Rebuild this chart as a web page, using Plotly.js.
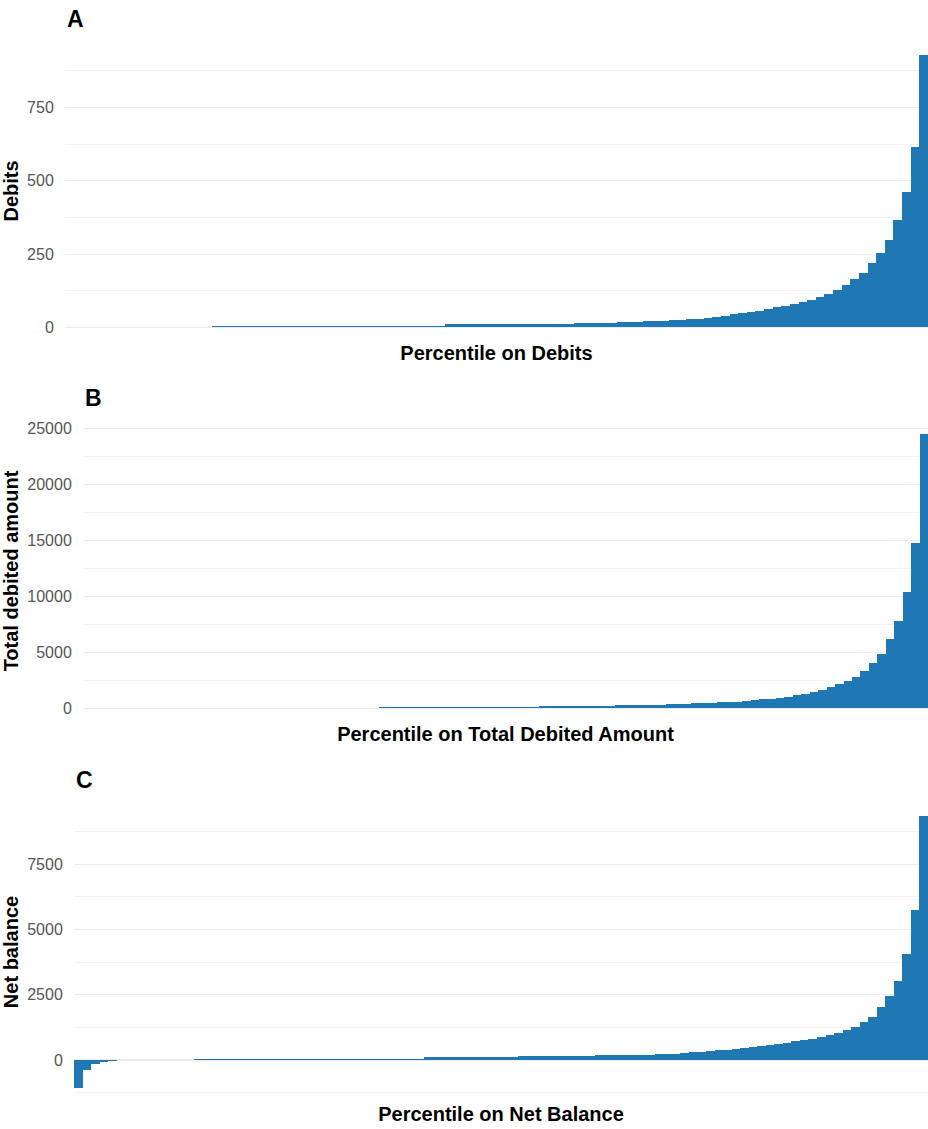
<!DOCTYPE html>
<html>
<head>
<meta charset="utf-8">
<script src="https://cdn.plot.ly/plotly-3.0.1.min.js"></script>
<style>html,body{margin:0;padding:0;background:#fff;}#chart{width:928px;height:1129px;}</style>
</head>
<body>
<div id="chart"></div>
<script>
// Percentile categories (1..100)
const percentiles = [1,2,3,4,5,6,7,8,9,10,11,12,13,14,15,16,17,18,19,20,
  21,22,23,24,25,26,27,28,29,30,31,32,33,34,35,36,37,38,39,40,
  41,42,43,44,45,46,47,48,49,50,51,52,53,54,55,56,57,58,59,60,
  61,62,63,64,65,66,67,68,69,70,71,72,73,74,75,76,77,78,79,80,
  81,82,83,84,85,86,87,88,89,90,91,92,93,94,95,96,97,98,99,100];

// Panel A: Debits by percentile
const debits = [0,0,0,0,0,0,0,0,0,0,0,0,0,0,0,0,0,
  3,3,3,3,3,3,3,3,3,3,3,3,3,3,3,3,3,3,
  6,6,6,6,6,6,6,6,6,
  10,10,10,10,10,10,10,10,10,10,
  13,13,13,13,13,
  16,16,16,16,16,
  20,20,20,
  22,22,22,
  24,24,
  27,30,33,36,40,44,48,51,57,61,68,73,80,88,95,105,114,127,144,164,185,218,255,298,366,460,616,930];

// Panel B: Total debited amount by percentile
const totalDebited = [0,0,0,0,0,0,0,0,0,0,0,0,0,0,0,0,0,0,0,0,0,0,0,0,0,0,0,0,0,0,0,0,0,0,0,
  90,90,90,90,90,90,90,90,90,90,90,90,90,90,90,90,90,90,90,
  190,190,190,190,190,190,190,190,190,
  300,300,300,300,300,300,
  370,390,410,430,460,490,520,560,600,650,710,800,860,950,1040,1160,1280,1430,1640,1870,2140,2440,2830,3360,4020,4820,6160,7800,10360,14820,24550];

// Panel C: Net balance by percentile
const netBalance = [-1085,-383,-165,-70,-30,-10,
  0,0,0,0,0,0,0,0,
  55,55,55,55,55,55,55,55,55,55,55,55,55,55,55,55,55,55,55,55,55,55,55,55,55,55,55,
  110,110,110,110,110,110,110,110,110,110,110,
  160,160,160,160,160,160,160,160,160,
  190,190,190,190,190,
  200,210,220,235,250,270,295,320,346,372,397,423,449,487,525,564,615,667,718,770,820,897,962,1051,1141,1270,1474,1667,2025,2436,3040,4064,5730,9360];

const panelLabels = ['A', 'B', 'C'];
const yTitles = ['Debits', 'Total debited amount', 'Net balance'];
const xTitles = ['Percentile on Debits', 'Percentile on Total Debited Amount', 'Percentile on Net Balance'];
const majorStep = [250, 5000, 2500];

const W = 928, H = 1129;
const FONT = 'Liberation Sans, Arial, sans-serif';
const BAR = '#1f77b4';
// plot-area pixel boxes [left, top, bottom]
const boxes = [[65, 41, 341], [83, 420, 722], [74, 802, 1102]];
const series = [debits, totalDebited, netBalance];

function gg(vals) {
  const lo = Math.min(0, Math.min(...vals));
  const hi = Math.max(0, Math.max(...vals));
  const pad = 0.05 * (hi - lo);
  return [lo - pad, hi + pad];
}

const data = [];
const layout = {
  width: W, height: H,
  margin: {l: 0, r: 0, t: 0, b: 0},
  paper_bgcolor: '#fff', plot_bgcolor: '#fff',
  showlegend: false, bargap: 0,
  font: {family: FONT},
  annotations: []
};

series.forEach((vals, i) => {
  const n = i === 0 ? '' : String(i + 1);
  const [left, top, bottom] = boxes[i];
  data.push({
    type: 'bar', x: percentiles, y: vals,
    xaxis: 'x' + n, yaxis: 'y' + n,
    width: 1, marker: {color: BAR, line: {width: 0}},
    hoverinfo: 'x+y'
  });
  layout['xaxis' + n] = {
    domain: [left / W, 1], anchor: 'y' + n,
    range: [0.5, 100.5], showgrid: false, zeroline: false,
    showticklabels: false, ticks: '', showline: false,
    title: {text: '<b>' + xTitles[i] + '</b>', font: {size: 20, color: '#000', family: FONT}, standoff: 4}
  };
  layout['yaxis' + n] = {
    domain: [1 - bottom / H, 1 - top / H], anchor: 'x' + n,
    range: gg(vals), dtick: majorStep[i], tick0: 0, tickformat: 'd',
    showgrid: true, gridcolor: '#ebebeb', gridwidth: 1.1,
    minor: {dtick: majorStep[i] / 2, tick0: 0, showgrid: true, gridcolor: '#f2f2f2', gridwidth: 1},
    zeroline: false, showline: false,
    ticks: 'outside', ticklen: 7, tickcolor: 'rgba(0,0,0,0)',
    tickfont: {size: 16, color: '#555', family: FONT},
    title: {text: '<b>' + yTitles[i] + '</b>', font: {size: 20, color: '#000', family: FONT}, standoff: 5}
  };
  layout.annotations.push({
    text: '<b>' + panelLabels[i] + '</b>', xref: 'paper', yref: 'paper',
    x: left / W, y: 1 - (top - 22) / H, xanchor: 'left', yanchor: 'middle',
    showarrow: false, font: {size: 23, color: '#000', family: FONT}
  });
});

Plotly.newPlot('chart', data, layout, {displayModeBar: false, staticPlot: true});
</script>
</body>
</html>
